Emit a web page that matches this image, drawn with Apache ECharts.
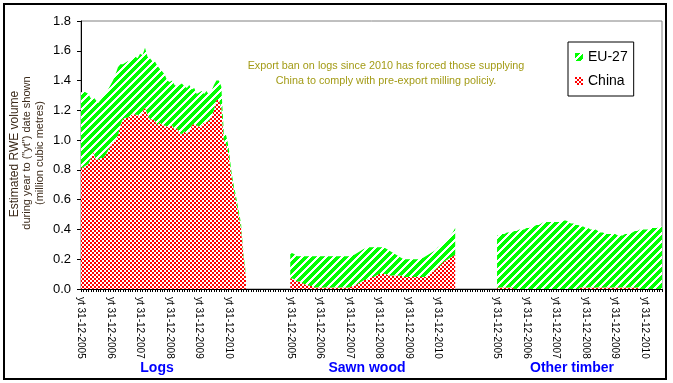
<!DOCTYPE html>
<html><head><meta charset="utf-8">
<script src="https://cdn.jsdelivr.net/npm/echarts@6/dist/echarts.min.js"></script>
<style>html,body{margin:0;padding:0;background:#fff}#c{width:673px;height:383px}</style>
</head><body><div id="c"></div>
<script>
// ---- data ----
const groupNames = ['Logs', 'Sawn wood', 'Other timber'];
const yearLabels = ['yt 31-12-2005','yt 31-12-2006','yt 31-12-2007','yt 31-12-2008','yt 31-12-2009','yt 31-12-2010'];
const seriesNames = ['China', 'EU-27'];
// empty months between groups on the category axis
const gapAfterGroup = [17, 16, 0];

const logsChina = [0.81,0.82,0.83,0.84,0.88,0.92,0.87,0.87,0.88,0.88,
 0.90,0.93,0.96,0.98,1.00,1.03,1.10,1.14,1.15,1.15,
 1.16,1.18,1.17,1.17,1.16,1.19,1.22,1.17,1.14,1.14,
 1.13,1.10,1.12,1.10,1.10,1.09,1.09,1.10,1.07,1.08,
 1.05,1.04,1.06,1.04,1.06,1.10,1.11,1.10,1.09,1.10,
 1.12,1.12,1.13,1.16,1.20,1.27,1.27,1.22,1.00,0.97,
 0.90,0.77,0.67,0.59,0.50,0.41,0.22,0.08];
const logsEU = [0.51,0.51,0.49,0.47,0.40,0.37,0.40,0.38,0.39,0.41,
 0.41,0.41,0.41,0.42,0.44,0.46,0.41,0.37,0.37,0.38,
 0.37,0.37,0.39,0.38,0.42,0.38,0.40,0.39,0.41,0.39,
 0.40,0.40,0.36,0.36,0.34,0.31,0.30,0.30,0.30,0.28,
 0.32,0.34,0.30,0.31,0.31,0.24,0.24,0.21,0.23,0.23,
 0.19,0.21,0.17,0.17,0.17,0.13,0.13,0.14,0.05,0.06,
 0.05,0.03,0.03,0.03,0.03,0.03,0.02,0.02];

const sawnChina = [0.07,0.07,0.06,0.05,0.05,0.04,0.03,0.03,0.02,0.02,
 0.01,0.01,0.01,0.01,0.01,0.01,0.01,0.01,0.01,0.01,
 0.01,0.01,0.01,0.01,0.01,0.02,0.02,0.03,0.04,0.05,
 0.06,0.06,0.07,0.08,0.08,0.09,0.10,0.10,0.10,0.10,
 0.09,0.09,0.09,0.09,0.09,0.09,0.08,0.08,0.08,0.08,
 0.08,0.08,0.08,0.08,0.08,0.08,0.09,0.10,0.12,0.13,
 0.15,0.16,0.18,0.19,0.20,0.21,0.22,0.23];
const sawnEU = [0.17,0.17,0.17,0.17,0.17,0.18,0.19,0.19,0.20,0.20,
 0.21,0.21,0.21,0.21,0.21,0.21,0.21,0.21,0.21,0.21,
 0.21,0.21,0.21,0.21,0.21,0.21,0.21,0.21,0.21,0.21,
 0.21,0.21,0.21,0.20,0.20,0.19,0.18,0.18,0.18,0.17,
 0.17,0.16,0.15,0.14,0.13,0.12,0.12,0.12,0.12,0.12,
 0.12,0.12,0.12,0.13,0.13,0.14,0.14,0.14,0.13,0.13,
 0.13,0.13,0.13,0.13,0.14,0.15,0.16,0.18];

const otherChina = [0.01,0.01,0.01,0.01,0.01,0.01,0.01,0,0,0,
 0,0,0,0,0,0,0,0,0,0,
 0,0,0,0,0,0,0,0,0,0,
 0,0,0,0,0.01,0.01,0.01,0.01,0.01,0.01,
 0.01,0.01,0.01,0.01,0.01,0.01,0.01,0.01,0.01,0.01,
 0.01,0.01,0.01,0.01,0.01,0.01,0.01,0.01,0,0,
 0,0,0,0,0,0,0,0];
const otherEU = [0.35,0.35,0.36,0.36,0.37,0.37,0.37,0.39,0.39,0.40,
 0.40,0.40,0.41,0.41,0.42,0.42,0.43,0.43,0.44,0.45,
 0.45,0.45,0.45,0.45,0.45,0.45,0.45,0.46,0.46,0.45,
 0.44,0.44,0.43,0.43,0.41,0.41,0.40,0.40,0.39,0.39,
 0.39,0.38,0.37,0.37,0.36,0.36,0.36,0.36,0.36,0.35,
 0.35,0.35,0.36,0.36,0.37,0.37,0.38,0.38,0.40,0.40,
 0.40,0.40,0.40,0.41,0.41,0.41,0.42,0.42];

const chinaByGroup = [logsChina, sawnChina, otherChina];
const euByGroup = [logsEU, sawnEU, otherEU];

// ---- build category axis & series ----
const categories = [];
const chinaData = [];
const euData = [];
groupNames.forEach((g, gi) => {
  const n = chinaByGroup[gi].length;
  for (let j = 0; j < n; j++) {
    const lab = (j % 12 === 0 && j / 12 < yearLabels.length) ? yearLabels[j / 12] : '';
    categories.push(g + '|' + j + '|' + lab);
    chinaData.push(chinaByGroup[gi][j]);
    euData.push(euByGroup[gi][j]);
  }
  for (let k = 0; k < gapAfterGroup[gi]; k++) {
    categories.push(g + '|gap' + k + '|');
    chinaData.push(null);
    euData.push(null);
  }
});

// ---- fill patterns ----
function checker() {
  const c = document.createElement('canvas'); c.width = 4; c.height = 4;
  const x = c.getContext('2d');
  x.fillStyle = '#ffffff'; x.fillRect(0, 0, 4, 4);
  x.fillStyle = '#ff0000'; x.fillRect(0, 0, 2, 2); x.fillRect(2, 2, 2, 2);
  return { image: c, repeat: 'repeat' };
}
function stripes() {
  const c = document.createElement('canvas'); c.width = 8; c.height = 8;
  const x = c.getContext('2d');
  x.fillStyle = '#ffffff'; x.fillRect(0, 0, 8, 8);
  x.fillStyle = '#00ff00';
  for (let i = 0; i < 8; i++) for (let j = 0; j < 8; j++) if ((i + j) % 8 < 5) x.fillRect(i, j, 1, 1);
  return { image: c, repeat: 'repeat' };
}
const redPat = checker();
const greenPat = stripes();
const FONT = 'Arial, "Liberation Sans", sans-serif';

const chart = echarts.init(document.getElementById('c'), null, { renderer: 'canvas' });
chart.setOption({
  animation: false,
  backgroundColor: '#ffffff',
  grid: { left: 81, right: 11, top: 21, bottom: 94, show: true, borderColor: '#808080', borderWidth: 1 },
  legend: {
    data: [
      { name: 'EU-27', icon: 'rect', itemStyle: { color: greenPat } },
      { name: 'China', icon: 'rect', itemStyle: { color: redPat } }
    ],
    orient: 'vertical', left: 568, top: 42,
    itemWidth: 8, itemHeight: 8, itemGap: 8,
    padding: [7, 6, 7, 7],
    borderColor: '#000', borderWidth: 1, backgroundColor: '#fff',
    textStyle: { fontSize: 14, fontFamily: FONT, color: '#000', lineHeight: 16 },
    selectedMode: false
  },
  xAxis: {
    type: 'category', data: categories, boundaryGap: false,
    axisLine: { lineStyle: { color: '#000', width: 1 } },
    axisTick: { show: true, interval: 0, length: 3, lineStyle: { color: '#000' } },
    axisLabel: {
      interval: (idx, val) => val.split('|')[2] !== '',
      formatter: (val) => val.split('|')[2],
      rotate: -90, fontSize: 10, fontFamily: FONT, color: '#000', margin: 8
    },
    splitLine: { show: false }
  },
  yAxis: {
    type: 'value', min: 0, max: 1.8, interval: 0.2,
    axisLine: { show: true, lineStyle: { color: '#000' } },
    axisTick: { show: true, length: 4, lineStyle: { color: '#000' } },
    axisLabel: { formatter: v => v.toFixed(1), fontSize: 13, fontFamily: FONT, color: '#000', margin: 10 },
    splitLine: { show: false }
  },
  series: [
    { name: seriesNames[0], type: 'line', stack: 'tot', data: chinaData, symbol: 'none',
      lineStyle: { width: 0 }, itemStyle: { color: redPat }, areaStyle: { color: redPat, opacity: 1 },
      emphasis: { disabled: true }, silent: true },
    { name: seriesNames[1], type: 'line', stack: 'tot', data: euData, symbol: 'none',
      lineStyle: { width: 0 }, itemStyle: { color: greenPat }, areaStyle: { color: greenPat, opacity: 1 },
      emphasis: { disabled: true }, silent: true }
  ],
  graphic: [
    { type: 'rect', shape: { x: 4, y: 4, width: 662, height: 375 }, style: { fill: null, stroke: '#000', lineWidth: 2 }, silent: true },
    { type: 'text', x: 15, y: 154, rotation: Math.PI / 2, style: { text: 'Estimated RWE volume', font: '12px ' + FONT, fill: '#3b2a1a', textAlign: 'center', textVerticalAlign: 'middle' } },
    { type: 'text', x: 27, y: 153, rotation: Math.PI / 2, style: { text: 'during year to ("yt") date shown', font: '11px ' + FONT, fill: '#3b2a1a', textAlign: 'center', textVerticalAlign: 'middle' } },
    { type: 'text', x: 40, y: 153, rotation: Math.PI / 2, style: { text: '(million cubic metres)', font: '11px ' + FONT, fill: '#3b2a1a', textAlign: 'center', textVerticalAlign: 'middle' } },
    { type: 'text', x: 386, y: 66, style: { text: 'Export ban on logs since 2010 has forced those supplying', font: '10.8px ' + FONT, fill: '#a39b16', textAlign: 'center', textVerticalAlign: 'middle' } },
    { type: 'text', x: 386, y: 81, style: { text: 'China to comply with pre-export milling policiy.', font: '10.8px ' + FONT, fill: '#a39b16', textAlign: 'center', textVerticalAlign: 'middle' } },
    { type: 'text', x: 157, y: 368, style: { text: groupNames[0], font: 'bold 14px ' + FONT, fill: '#0000ff', textAlign: 'center', textVerticalAlign: 'middle' } },
    { type: 'text', x: 367, y: 368, style: { text: groupNames[1], font: 'bold 14px ' + FONT, fill: '#0000ff', textAlign: 'center', textVerticalAlign: 'middle' } },
    { type: 'text', x: 572, y: 368, style: { text: groupNames[2], font: 'bold 14px ' + FONT, fill: '#0000ff', textAlign: 'center', textVerticalAlign: 'middle' } }
  ]
});
</script></body></html>
